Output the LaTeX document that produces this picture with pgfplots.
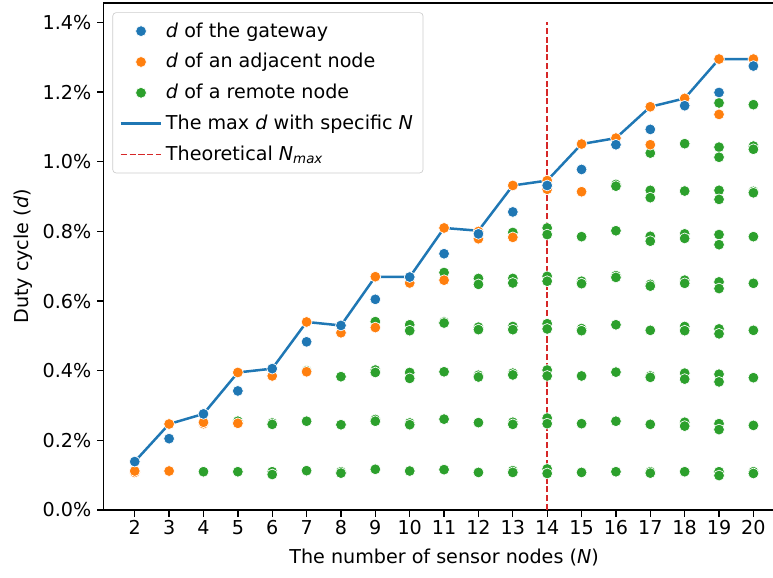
\documentclass[border=0pt]{standalone}
\usepackage{fontspec}
\setmainfont{DejaVu Sans}
\usepackage{pgfplots}
\usepackage{pgfplotstable}
\pgfplotsset{compat=1.18}
\definecolor{tabblue}{HTML}{1F77B4}
\definecolor{taborange}{HTML}{FF7F0E}
\definecolor{tabgreen}{HTML}{2CA02C}
\definecolor{tabred}{HTML}{D62728}
\newcommand{\fs}{\fontsize{11.5}{13.8}\selectfont}

\pgfplotstableread{
x y
2 0.139
3 0.205
4 0.276
5 0.342
6 0.406
7 0.483
8 0.530
9 0.605
10 0.669
11 0.736
12 0.793
13 0.856
14 0.932
15 0.978
16 1.049
17 1.093
18 1.161
19 1.199
20 1.275
}\gateway

\pgfplotstableread{
x y
2 0.108
2 0.112
3 0.247
3 0.112
4 0.248
4 0.252
5 0.395
5 0.249
6 0.385
7 0.540
7 0.397
8 0.509
9 0.670
9 0.524
10 0.652
11 0.810
11 0.660
12 0.800
12 0.779
13 0.932
13 0.783
14 0.946
14 0.921
15 1.051
15 0.914
16 1.068
17 1.158
17 1.049
18 1.182
19 1.295
19 1.136
20 1.295
}\adjacent

\pgfplotstableread{
x y
4 0.110
5 0.255
5 0.110
6 0.250
6 0.246
6 0.110
6 0.102
7 0.400
7 0.255
7 0.113
8 0.383
8 0.245
8 0.110
8 0.106
9 0.541
9 0.402
9 0.395
9 0.260
9 0.255
9 0.117
10 0.532
10 0.515
10 0.395
10 0.378
10 0.250
10 0.245
10 0.112
11 0.682
11 0.540
11 0.537
11 0.397
11 0.261
11 0.116
12 0.665
12 0.648
12 0.525
12 0.518
12 0.387
12 0.382
12 0.251
12 0.108
13 0.797
13 0.665
13 0.652
13 0.527
13 0.518
13 0.393
13 0.388
13 0.252
13 0.246
13 0.113
13 0.108
14 0.810
14 0.791
14 0.671
14 0.657
14 0.535
14 0.520
14 0.402
14 0.385
14 0.264
14 0.248
14 0.118
14 0.105
15 0.785
15 0.657
15 0.650
15 0.521
15 0.515
15 0.385
15 0.248
15 0.108
16 0.935
16 0.930
16 0.802
16 0.673
16 0.668
16 0.532
16 0.396
16 0.255
16 0.110
17 1.025
17 0.918
17 0.897
17 0.786
17 0.772
17 0.648
17 0.643
17 0.516
17 0.385
17 0.381
17 0.246
17 0.110
17 0.106
18 1.052
18 0.916
18 0.793
18 0.780
18 0.660
18 0.651
18 0.527
18 0.515
18 0.393
18 0.376
18 0.252
18 0.241
18 0.110
19 1.169
19 1.042
19 1.013
19 0.918
19 0.892
19 0.791
19 0.762
19 0.655
19 0.636
19 0.520
19 0.506
19 0.390
19 0.368
19 0.248
19 0.231
19 0.110
19 0.099
20 1.164
20 1.045
20 1.036
20 0.915
20 0.911
20 0.785
20 0.651
20 0.516
20 0.380
20 0.243
20 0.110
20 0.105
}\remote

\pgfplotstableread{
x y
2 0.139
3 0.247
4 0.276
5 0.395
6 0.406
7 0.540
8 0.530
9 0.670
10 0.669
11 0.810
12 0.802
13 0.932
14 0.946
15 1.051
16 1.068
17 1.158
18 1.182
19 1.295
20 1.295
}\maxd

\begin{document}
\begin{tikzpicture}[font=\fs]
\begin{axis}[
  scale only axis,
  width=409.1pt, height=304.8pt,
  xmin=1.1, xmax=20.9,
  ymin=0, ymax=1.456,
  xtick={2,3,...,20},
  ytick={0,0.2,...,1.4},
  yticklabel={\pgfmathprintnumber[fixed,fixed zerofill,precision=1]{\tick}\%},
  /pgf/number format/assume math mode=true,
  tick label style={font=\fs},
  xticklabel style={yshift=1.5pt},
  label style={font=\fs},
  xlabel style={yshift=-2pt},
  ylabel style={yshift=-0.5pt},
  tick align=outside,
  tick pos=left,
  major tick length=4pt,
  tick style={black, line width=0.8pt},
  axis line style={line width=0.8pt},
  xlabel={The number of sensor nodes (\textit{N})},
  ylabel={Duty cycle (\textit{d})},
  legend cell align=left,
  legend style={at={(0,1)}, anchor=north west, xshift=5.2pt, yshift=-5.6pt,
    draw=black!20, rounded corners=2pt, fill=white, font=\fs,
    row sep=4.3pt, inner sep=4pt},
  legend image code/.code={\draw[mark repeat=2,mark phase=2] plot coordinates {(0cm,0cm) (0.43cm,0cm) (0.86cm,0cm)};},
  mymark/.style={only marks, mark=*, mark size=3.25pt, mark options={draw=white, line width=0.5pt}},
]
\coordinate (bl) at (axis cs:1.1,0);
\coordinate (tr) at (axis cs:20.57,1.456);

\addlegendimage{mymark, color=tabblue, mark options={fill=tabblue, draw=white}}
\addlegendentry{\textit{d} of the gateway}
\addlegendimage{mymark, color=taborange, mark options={fill=taborange, draw=white}}
\addlegendentry{\textit{d} of an adjacent node}
\addlegendimage{mymark, color=tabgreen, mark options={fill=tabgreen, draw=white}}
\addlegendentry{\textit{d} of a remote node}
\addlegendimage{tabblue, line width=1.5pt}
\addlegendentry{The max \textit{d} with specific \textit{N}}
\addlegendimage{tabred, line width=1pt, dash pattern=on 3.7pt off 1.6pt}
\addlegendentry{Theoretical \textit{N}\textsubscript{\textit{max}}}

\addplot[mymark, color=tabgreen, mark options={fill=tabgreen, draw=white}, forget plot] table {\remote};
\addplot[mymark, color=taborange, mark options={fill=taborange, draw=white}, forget plot] table {\adjacent};
\addplot[mymark, color=tabblue, mark options={fill=tabblue, draw=white}, forget plot] table {\gateway};
\addplot[tabblue, line width=1.5pt, no marks, forget plot] table {\maxd};
\addplot[tabred, line width=1pt, dash pattern=on 3.7pt off 1.6pt, forget plot] coordinates {(14,0) (14,1.4)};
\end{axis}
\pgfresetboundingbox
\path ([shift={(-62.4pt,-40.8pt)}]bl) rectangle ([shift={(0pt,1.8pt)}]tr);
\end{tikzpicture}
\end{document}
